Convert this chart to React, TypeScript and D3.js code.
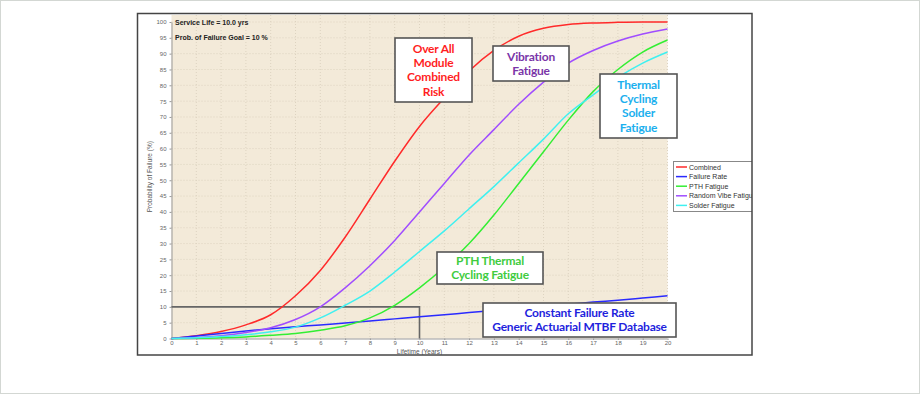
import React, { useRef, useEffect } from "react";
import * as d3 from "d3";

// years on the x axis
const years = [0, 1, 2, 3, 4, 5, 6, 7, 8, 9, 10, 11, 12, 13, 14, 15, 16, 17, 18, 19, 20];

// probability of failure (%)
const combined = [0, 0.9, 2.2, 4.3, 7.5, 13.5, 21.5, 32, 44, 56, 67, 76, 84.5, 91, 95.5, 98, 99.2, 99.7, 99.9, 100, 100];
const failureRate = [0, 0.8, 1.6, 2.4, 3.1, 3.7, 4.3, 4.9, 5.5, 6.2, 6.9, 7.5, 8.2, 8.8, 9.5, 10.2, 10.8, 11.5, 12.1, 12.8, 13.5];
const pthFatigue = [0, 0.05, 0.2, 0.5, 1, 1.6, 2.6, 4, 6.5, 10.5, 16, 22.5, 30, 39, 49, 59, 69, 78, 85, 90.5, 94.3];
const vibeFatigue = [0, 0.3, 0.9, 1.9, 3.4, 6, 10, 16, 23, 31, 40, 49, 58, 66, 74, 81, 87, 91, 94, 96.2, 97.8];
const solderFatigue = [0, 0.2, 0.6, 1.2, 2.1, 3.6, 6.5, 10.5, 15, 21, 27.5, 34, 41, 48, 55.5, 63, 71, 77, 82.5, 87, 90.5];

const seriesNames = ["Combined", "Failure Rate", "PTH Fatigue", "Random Vibe Fatigue", "Solder Fatigue"];
const seriesColors = ["#ff2a2a", "#2a2aff", "#33ee33", "#a04dff", "#3ff0f0"];
const seriesValues = [combined, failureRate, pthFatigue, vibeFatigue, solderFatigue];

const yTicks = [0, 5, 10, 15, 20, 25, 30, 35, 40, 45, 50, 55, 60, 65, 70, 75, 80, 85, 90, 95, 100];

const serviceLife = 10;
const goal = 10;

const notes = [
  { lines: ["Over All", "Module", "Combined", "Risk"], color: "#ff1f1f", box: [395, 38, 472, 102] },
  { lines: ["Vibration", "Fatigue"], color: "#7a35a8", box: [493, 46, 569, 81] },
  { lines: ["Thermal", "Cycling", "Solder", "Fatigue"], color: "#1cb0ee", box: [600, 74, 677, 138] },
  { lines: ["PTH Thermal", "Cycling Fatigue"], color: "#3fcc3f", box: [437, 252, 543, 284] },
  { lines: ["Constant Failure Rate", "Generic Actuarial MTBF Database"], color: "#1f1fdd", box: [483, 303, 676, 337] },
];

const App = () => {
  const svgRef = useRef<SVGSVGElement>(null);

  useEffect(() => {
    if (!svgRef.current) return;
    const svg = d3.select(svgRef.current);
    svg.selectAll("*").remove();

    const width = 920;
    const height = 394;
    const left = 171.5;
    const right = 667.5;
    const top = 15;
    const bottom = 338.5;

    const x = d3.scaleLinear([0, 20], [left, right]);
    const y = d3.scaleLinear([0, 100], [bottom, 22]);

    svg.attr("width", width).attr("height", height).style("font-family", "'Liberation Sans', Arial, sans-serif");

    // outer light border
    svg.append("rect").attr("x", 0.5).attr("y", 0.5).attr("width", width - 1).attr("height", height - 1)
      .attr("fill", "white").attr("stroke", "#d3d7d3");

    svg.append("clipPath").attr("id", "frameclip").append("rect")
      .attr("x", 137).attr("y", 13).attr("width", 615).attr("height", 342);

    const g = svg.append("g").attr("clip-path", "url(#frameclip)");

    // plot background
    g.append("rect").attr("x", left).attr("y", top).attr("width", right - left).attr("height", bottom - top)
      .attr("fill", "#f3ead9");

    // grid
    g.append("g").selectAll("line").data(years.slice(1)).join("line")
      .attr("x1", (d) => x(d)).attr("x2", (d) => x(d)).attr("y1", top).attr("y2", bottom)
      .attr("stroke", "#ddd3c0").attr("stroke-dasharray", "1,2");
    g.append("g").selectAll("line").data(yTicks.slice(1)).join("line")
      .attr("x1", left).attr("x2", right).attr("y1", (d) => y(d)).attr("y2", (d) => y(d))
      .attr("stroke", "#ddd3c0").attr("stroke-dasharray", "1,2");

    // axes
    const xAxis = g.append("g").attr("transform", `translate(0,${bottom})`)
      .call(d3.axisBottom(x).tickValues(years).tickFormat(d3.format("d")).tickSize(1.5).tickPadding(1));
    const yAxis = g.append("g").attr("transform", `translate(${left},0)`)
      .call(d3.axisLeft(y).tickValues(yTicks).tickSize(2).tickPadding(3).tickSizeOuter(0));
    [xAxis, yAxis].forEach((a) => {
      a.select(".domain").attr("stroke", "#999");
      a.selectAll(".tick line").attr("stroke", "#999");
      a.selectAll("text").attr("fill", "#666").style("font-size", "6px").style("font-family", "'Liberation Sans', Arial, sans-serif");
    });
    xAxis.select(".domain").attr("d", `M${left},0.5H${right}`);

    g.append("text").attr("x", (left + right) / 2).attr("y", 354).attr("text-anchor", "middle")
      .attr("fill", "#555").style("font-size", "6.5px").text("Lifetime (Years)");
    g.append("text").attr("transform", `translate(152,${(top + bottom) / 2}) rotate(-90)`).attr("text-anchor", "middle")
      .attr("fill", "#555").style("font-size", "6.5px").text("Probability of Failure (%)");

    // goal box
    g.append("path")
      .attr("d", `M${x(0)},${y(goal)}H${x(serviceLife)}V${y(0)}`)
      .attr("fill", "none").attr("stroke", "#666").attr("stroke-width", 1.6);

    // curves
    const line = d3.line<number>().x((_, i) => x(years[i])).y((d) => y(d)).curve(d3.curveMonotoneX);
    seriesValues.forEach((vals, i) => {
      g.append("path").attr("d", line(vals)).attr("fill", "none")
        .attr("stroke", seriesColors[i]).attr("stroke-width", 1.5);
    });

    // top-left texts
    g.append("text").attr("x", 175).attr("y", 25).attr("fill", "#222").style("font-size", "7px")
      .style("font-weight", "bold").text(`Service Life = ${serviceLife.toFixed(1)} yrs`);
    g.append("text").attr("x", 175).attr("y", 40).attr("fill", "#222").style("font-size", "7px")
      .style("font-weight", "bold").text(`Prob. of Failure Goal = ${goal} %`);

    // legend
    const lg = g.append("g");
    lg.append("rect").attr("x", 673.5).attr("y", 161.5).attr("width", 90).attr("height", 50)
      .attr("fill", "white").attr("stroke", "#888");
    seriesNames.forEach((name, i) => {
      const ly = 167 + i * 9.6;
      lg.append("line").attr("x1", 676).attr("x2", 687).attr("y1", ly).attr("y2", ly)
        .attr("stroke", seriesColors[i]).attr("stroke-width", 1.5);
      lg.append("text").attr("x", 689).attr("y", ly + 2.5).attr("fill", "#333").style("font-size", "7px").text(name);
    });

    // annotation boxes
    notes.forEach((n) => {
      const [x0, y0, x1, y1] = n.box;
      g.append("rect").attr("x", x0).attr("y", y0).attr("width", x1 - x0).attr("height", y1 - y0)
        .attr("fill", "white").attr("stroke", "#555").attr("stroke-width", 1.6);
      const cy = (y0 + y1) / 2;
      const lh = 14.3;
      n.lines.forEach((t, i) => {
        g.append("text").attr("x", (x0 + x1) / 2).attr("y", cy + (i - (n.lines.length - 1) / 2) * lh + 4.3)
          .attr("text-anchor", "middle").attr("fill", n.color)
          .style("font-family", "Lato, 'Open Sans', sans-serif").style("font-weight", "bold").style("font-size", "12px")
          .style("letter-spacing", "-0.2px")
          .text(t);
      });
    });

    // frame
    svg.append("rect").attr("x", 137.5).attr("y", 13.5).attr("width", 614.5).attr("height", 341.5)
      .attr("fill", "none").attr("stroke", "#444").attr("stroke-width", 1.5);
  }, []);

  return <svg ref={svgRef} style={{ position: "absolute", left: 0, top: 0 }}></svg>;
};

export default App;
